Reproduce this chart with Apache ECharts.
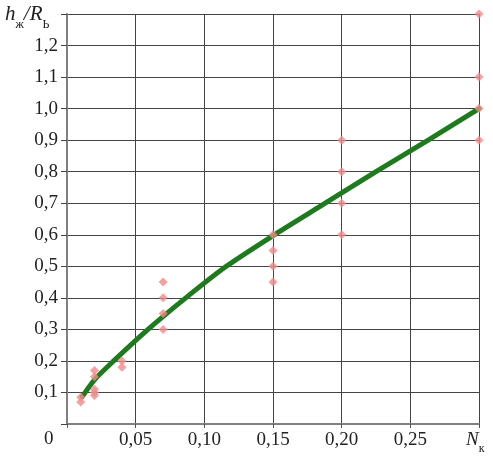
<!DOCTYPE html>
<html><head><meta charset="utf-8">
<script src="https://cdn.jsdelivr.net/npm/echarts@6/dist/echarts.min.js"></script>
<style>html,body{margin:0;padding:0;background:#fff}#c{width:493px;height:456px}</style>
</head><body><div id="c"></div>
<script>
// Scattered measurements (x = N_к, y = h_ж/R_Ь)
const pointsX = [0.01,0.01, 0.02,0.02,0.02,0.02,0.02, 0.04,0.04, 0.07,0.07,0.07,0.07, 0.15,0.15,0.15,0.15, 0.20,0.20,0.20,0.20, 0.30,0.30,0.30,0.30];
const pointsY = [0.07,0.085, 0.17,0.15,0.11,0.10,0.09, 0.20,0.18, 0.45,0.40,0.35,0.30, 0.60,0.55,0.50,0.45, 0.90,0.80,0.70,0.60, 1.30,1.10,1.00,0.90];
// Fitted curve
const curveX = [0.011, 0.020, 0.034, 0.059, 0.0865, 0.116, 0.151, 0.188, 0.225, 0.263, 0.300];
const curveY = [0.086, 0.140, 0.200, 0.300, 0.400, 0.500, 0.600, 0.700, 0.800, 0.900, 1.000];
const xTicks = ['0', '0,05', '0,10', '0,15', '0,20', '0,25'];
const yTicks = ['0,1','0,2','0,3','0,4','0,5','0,6','0,7','0,8','0,9','1,0','1,1','1,2'];

const FONT = '"Liberation Serif", "DejaVu Serif", serif';
const chart = echarts.init(document.getElementById('c'));
chart.setOption({
  animation: false,
  grid: {left: 67, right: 14, top: 14, bottom: 32},
  xAxis: {
    type: 'value', min: 0, max: 0.3, interval: 0.05,
    axisLine: {show: true, lineStyle: {color: '#808080', width: 2}},
    axisTick: {show: true, inside: false, length: 4, lineStyle: {color: '#555'}},
    splitLine: {show: true, lineStyle: {color: '#444', width: 1}},
    axisLabel: {
      fontFamily: FONT, fontSize: 19, color: '#222', margin: 7,
      formatter: function (v) {
        const i = Math.round(v / 0.05);
        if (i === 0 || i >= xTicks.length) return '';
        return xTicks[i];
      }
    }
  },
  yAxis: {
    type: 'value', min: 0, max: 1.3, interval: 0.1,
    axisLine: {show: true, lineStyle: {color: '#808080', width: 2}},
    axisTick: {show: true, length: 6, lineStyle: {color: '#444'}},
    splitLine: {show: true, lineStyle: {color: '#444', width: 1}},
    axisLabel: {
      fontFamily: FONT, fontSize: 19, color: '#222', margin: 9,
      formatter: function (v) {
        const i = Math.round(v / 0.1);
        if (i === 0 || i > yTicks.length) return '';
        return yTicks[i - 1];
      }
    }
  },
  series: [
    {
      type: 'line', smooth: 0.25, showSymbol: false,
      lineStyle: {color: '#1d7a1d', width: 5, join: 'round', cap: 'round'},
      data: curveX.map((x, i) => [x, curveY[i]]), z: 3
    },
    {
      type: 'scatter', symbol: 'diamond', symbolSize: 9,
      itemStyle: {color: '#f28a8a'},
      data: pointsX.map((x, i) => [x, pointsY[i]]), z: 4
    }
  ],
  graphic: [
    {type: 'text', left: 44, top: 430, style: {text: '0', font: '19px ' + FONT, fill: '#222'}},
    {type: 'text', left: 466, top: 430, style: {
      text: '{i|N}{s|к}', fill: '#222',
      rich: {i: {fontFamily: FONT, fontStyle: 'italic', fontSize: 19, verticalAlign: 'bottom'},
             s: {fontFamily: FONT, fontSize: 12, verticalAlign: 'bottom', padding: [0,0,-6,0]}}
    }},
    {type: 'text', left: 5, top: 4, style: {
      text: '{i|h}{s|ж}{i|/R}{s|Ь}', fill: '#222',
      rich: {i: {fontFamily: FONT, fontStyle: 'italic', fontSize: 21, verticalAlign: 'bottom'},
             s: {fontFamily: FONT, fontSize: 12, verticalAlign: 'bottom', padding: [0,0,-6,0]}}
    }}
  ]
});
</script></body></html>
